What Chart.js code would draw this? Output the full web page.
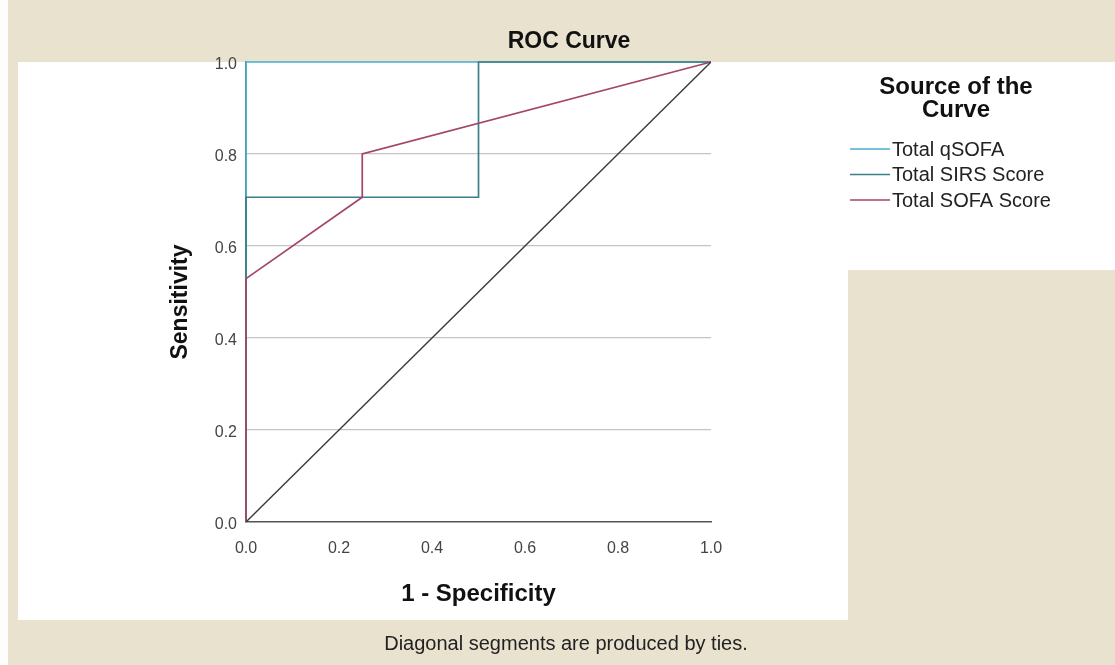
<!DOCTYPE html>
<html>
<head>
<meta charset="utf-8">
<script src="https://cdn.jsdelivr.net/npm/chart.js@4"></script>
<style>
  html, body { margin: 0; padding: 0; background: #e9e2cf; }
  #wrap { width: 1115px; height: 665px; }
</style>
</head>
<body>
<div id="wrap"><canvas id="roc" width="1115" height="665"></canvas></div>
<script>
// ROC points (1 - specificity, sensitivity)
const qsofaX = [0, 0, 1];
const qsofaY = [0, 1, 1];
const sirsX = [0, 0, 0.5, 0.5, 1];
const sirsY = [0, 0.706, 0.706, 1, 1];
const sofaX = [0, 0, 0.25, 0.25, 1];
const sofaY = [0, 0.529, 0.706, 0.8, 1];
const refX = [0, 1];
const refY = [0, 1];
const tickVals = [0, 0.2, 0.4, 0.6, 0.8, 1.0];

const seriesNames = ["Total qSOFA", "Total SIRS Score", "Total SOFA Score"];
const seriesColors = ["#46add3", "#3b7f86", "#a3446c"];

function pts(xs, ys) {
  return xs.map((x, i) => ({ x: x, y: ys[i] }));
}

const FONT = "'Liberation Sans', Arial, sans-serif";

// backgrounds, titles, legend and footnote
const frame = {
  id: "frame",
  beforeDraw(chart) {
    const c = chart.ctx;
    c.save();
    c.fillStyle = "#e9e2cf";
    c.fillRect(0, 0, 1115, 665);
    c.fillStyle = "#fdfdfb";
    c.fillRect(0, 0, 8, 665);
    c.fillStyle = "#ffffff";
    c.fillRect(18, 62, 830, 558);
    c.fillRect(848, 62, 267, 208);
    c.restore();
  },
  afterDraw(chart) {
    const c = chart.ctx;
    const a = chart.chartArea;
    c.save();
    c.fillStyle = "#111";
    c.textAlign = "center";
    c.textBaseline = "middle";
    c.font = "bold 23px " + FONT;
    c.fillText("ROC Curve", 569, 42);
    c.font = "bold 24px " + FONT;
    c.fillText("1 - Specificity", (a.left + a.right) / 2, 594);
    c.save();
    c.translate(181, 302);
    c.rotate(-Math.PI / 2);
    c.font = "bold 23px " + FONT;
    c.fillText("Sensitivity", 0, 0);
    c.restore();

    c.font = "bold 24px " + FONT;
    c.fillText("Source of the", 956, 87);
    c.fillText("Curve", 956, 110);

    c.textAlign = "left";
    c.font = "20px " + FONT;
    seriesNames.forEach((name, i) => {
      const y = 149 + i * 25.5;
      c.strokeStyle = seriesColors[i];
      c.lineWidth = 1.6;
      c.beginPath();
      c.moveTo(850, y);
      c.lineTo(890, y);
      c.stroke();
      c.fillStyle = "#222";
      c.fillText(name, 892, y + 1);
    });

    c.textAlign = "center";
    c.font = "20px " + FONT;
    c.fillStyle = "#222";
    c.fillText("Diagonal segments are produced by ties.", 566, 644);
    c.restore();
  }
};

const lineStyle = { showLine: true, pointRadius: 0, borderWidth: 1.7, fill: false, tension: 0, clip: 3 };

new Chart(document.getElementById("roc"), {
  type: "scatter",
  data: {
    datasets: [
      { label: "ref", data: pts(refX, refY), borderColor: "#3a3a3a", borderWidth: 1.4, showLine: true, pointRadius: 0, fill: false },
      Object.assign({ label: seriesNames[2], data: pts(sofaX, sofaY), borderColor: seriesColors[2] }, lineStyle),
      Object.assign({ label: seriesNames[1], data: pts(sirsX, sirsY), borderColor: seriesColors[1] }, lineStyle),
      Object.assign({ label: seriesNames[0], data: pts(qsofaX, qsofaY), borderColor: seriesColors[0] }, lineStyle)
    ]
  },
  options: {
    responsive: false,
    animation: false,
    events: [],
    layout: { padding: { left: 0, top: 62, right: 404, bottom: 0 } },
    plugins: { legend: { display: false }, title: { display: false }, tooltip: { enabled: false } },
    scales: {
      x: {
        type: "linear",
        min: 0, max: 1,
        afterFit(s) { s.height = 143; },
        afterBuildTicks(s) { s.ticks = tickVals.map(v => ({ value: v })); },
        grid: { display: false, drawTicks: false },
        border: { color: "#555", width: 1.4 },
        ticks: {
          padding: 17,
          color: "#444",
          font: { family: FONT, size: 16 },
          callback: v => v.toFixed(1)
        }
      },
      y: {
        type: "linear",
        min: 0, max: 1,
        afterFit(s) { s.width = 246; },
        afterBuildTicks(s) { s.ticks = tickVals.map(v => ({ value: v })); },
        grid: {
          drawTicks: false,
          color: ctx => (ctx.tick && (ctx.tick.value === 0 || ctx.tick.value === 1)) ? "rgba(0,0,0,0)" : "#c4c4c4",
          lineWidth: 1.2
        },
        border: { color: "#555", width: 1.4 },
        ticks: {
          padding: 9,
          labelOffset: 3,
          color: "#444",
          font: { family: FONT, size: 16 },
          callback: v => v.toFixed(1)
        }
      }
    }
  },
  plugins: [frame]
});
</script>
</body>
</html>
